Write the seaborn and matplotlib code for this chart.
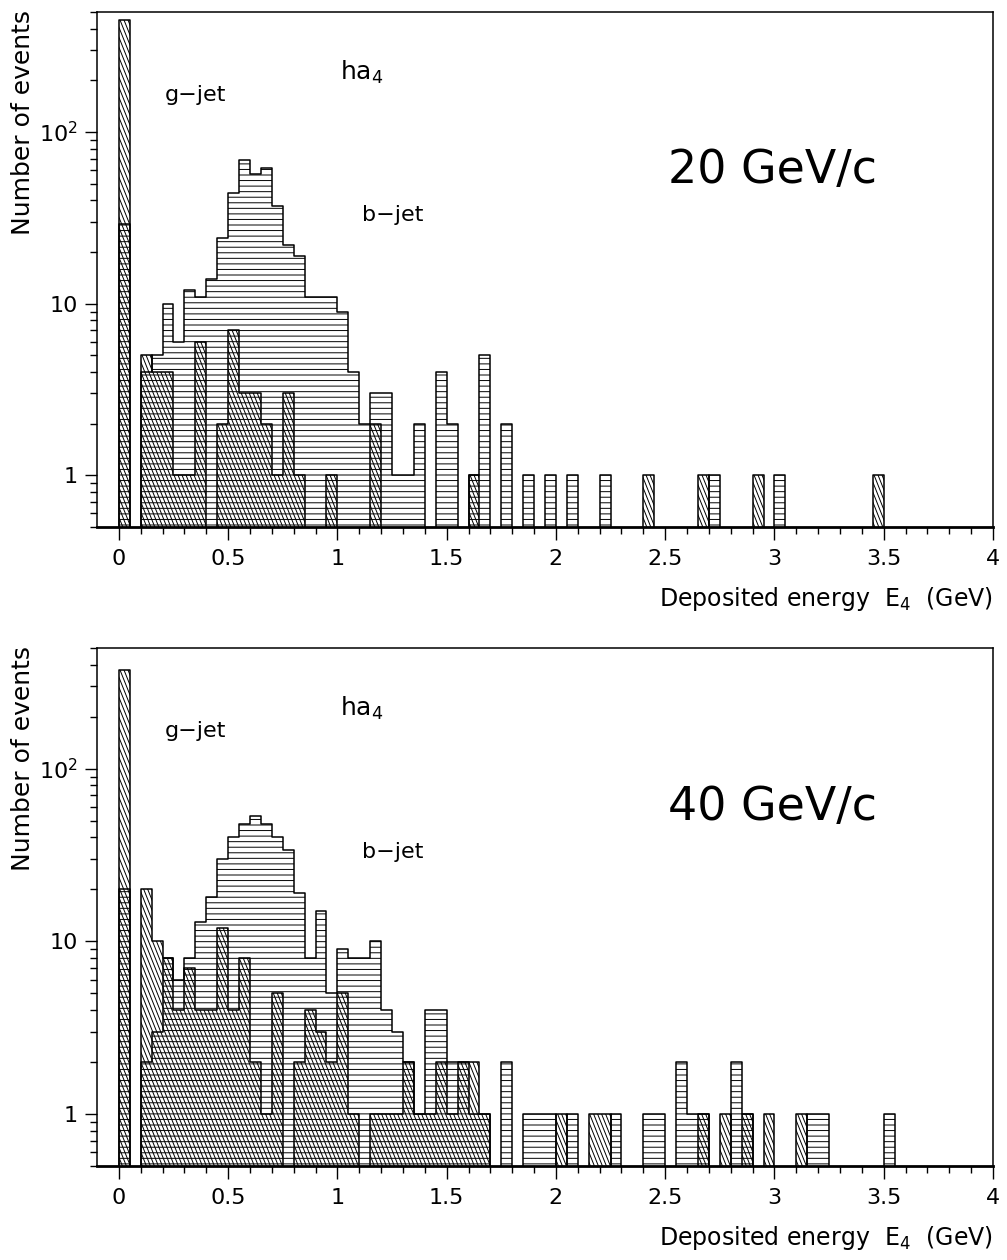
import numpy as np
import pandas as pd
import matplotlib
matplotlib.use("Agg")
import matplotlib.pyplot as plt
import matplotlib.hatch as mhatch
from matplotlib.path import Path
from matplotlib.ticker import FixedLocator, FixedFormatter, LogLocator, NullFormatter
import seaborn as sns

# ---------------------------------------------------------------------------
# Deposited energy E4 in calorimeter layer ha4, bins of 0.05 GeV from -0.1 to 4.0
# (lower bin edge in GeV, number of events; empty bins are left out)
# ---------------------------------------------------------------------------
bjet20_lo = [0.00, 0.10, 0.15, 0.20, 0.25, 0.30, 0.35, 0.40, 0.45, 0.50,
             0.55, 0.60, 0.65, 0.70, 0.75, 0.80, 0.85, 0.90, 0.95, 1.00,
             1.05, 1.10, 1.15, 1.20, 1.25, 1.30, 1.35, 1.45, 1.50, 1.60,
             1.65, 1.75, 1.85, 1.95, 2.05, 2.20, 2.70, 3.00]
bjet20_n = [29, 4, 5, 10, 6, 12, 11, 14, 24, 44,
            69, 57, 62, 37, 22, 19, 11, 11, 11, 9,
            4, 2, 3, 3, 1, 1, 2, 4, 2, 1,
            5, 2, 1, 1, 1, 1, 1, 1]

gjet20_lo = [0.00, 0.10, 0.15, 0.20, 0.25, 0.30, 0.35, 0.45, 0.50, 0.55,
             0.60, 0.65, 0.70, 0.75, 0.80, 0.95, 1.15, 1.60, 2.40, 2.65,
             2.90, 3.45]
gjet20_n = [450, 5, 4, 4, 1, 1, 6, 2, 7, 3,
            3, 2, 1, 3, 1, 1, 2, 1, 1, 1,
            1, 1]

bjet40_lo = [0.00, 0.10, 0.15, 0.20, 0.25, 0.30, 0.35, 0.40, 0.45, 0.50,
             0.55, 0.60, 0.65, 0.70, 0.75, 0.80, 0.85, 0.90, 0.95, 1.00,
             1.05, 1.10, 1.15, 1.20, 1.25, 1.30, 1.35, 1.40, 1.45, 1.50,
             1.55, 1.60, 1.65, 1.75, 1.85, 1.90, 1.95, 2.05, 2.25, 2.40,
             2.45, 2.55, 2.60, 2.65, 2.80, 2.85, 3.15, 3.20, 3.50]
bjet40_n = [20, 2, 3, 8, 6, 8, 13, 18, 30, 40,
            48, 53, 48, 40, 34, 19, 8, 15, 5, 9,
            8, 8, 10, 4, 3, 2, 1, 4, 4, 2,
            2, 1, 1, 2, 1, 1, 1, 1, 1, 1,
            1, 2, 1, 1, 2, 1, 1, 1, 1]

gjet40_lo = [0.00, 0.10, 0.15, 0.20, 0.25, 0.30, 0.35, 0.40, 0.45, 0.50,
             0.55, 0.60, 0.65, 0.70, 0.80, 0.85, 0.90, 0.95, 1.00, 1.05,
             1.15, 1.20, 1.25, 1.30, 1.35, 1.40, 1.45, 1.50, 1.55, 1.60,
             1.65, 2.00, 2.15, 2.20, 2.65, 2.75, 2.85, 2.95, 3.10]
gjet40_n = [373, 20, 10, 8, 4, 7, 4, 4, 12, 4,
            8, 2, 1, 5, 2, 4, 3, 2, 5, 1,
            1, 1, 1, 2, 1, 1, 2, 1, 2, 2,
            1, 1, 1, 1, 1, 1, 1, 1, 1]

momenta = ["20 GeV/c", "40 GeV/c"]
xtick_values = [0, 0.5, 1, 1.5, 2, 2.5, 3, 3.5, 4]
xtick_labels = ["0", "0.5", "1", "1.5", "2", "2.5", "3", "3.5", "4"]
ytick_values = [1, 10, 100]
ytick_labels = ["1", "10", "10$^2$"]

BIN_W = 0.05
edges = [round(e, 3) for e in np.arange(-0.1, 4.0 + BIN_W / 2, BIN_W)]


# Steep single-direction hatch ("\" lines, about 68 deg) for the g-jet histograms
class SteepBackslashHatch(mhatch.HatchPatternBase):
    LINES = 25      # lines per hatch cell along x
    SLOPE = 2.5     # rise per unit run (LINES / SLOPE must be an integer)

    def __init__(self, hatch, density):
        self.active = hatch.count("\\") > 0
        n = self.LINES + int(self.LINES / self.SLOPE) + 1
        self.num_vertices = 2 * n if self.active else 0

    def set_vertices_and_codes(self, vertices, codes):
        n = self.num_vertices // 2
        c = np.arange(n) / self.LINES
        vertices[0::2, 0] = c
        vertices[0::2, 1] = 0.0
        vertices[1::2, 0] = c - 1.0 / self.SLOPE
        vertices[1::2, 1] = 1.0
        codes[0::2] = Path.MOVETO
        codes[1::2] = Path.LINETO


mhatch._hatch_types = [SteepBackslashHatch if t is mhatch.SouthEastHatch else t
                       for t in mhatch._hatch_types]

sns.set_style("ticks")
plt.rcParams["font.family"] = ["DejaVu Sans"]
plt.rcParams["mathtext.fontset"] = "dejavusans"
plt.rcParams["hatch.linewidth"] = 0.7
plt.rcParams["hatch.color"] = "black"
plt.rcParams["axes.linewidth"] = 1.1
for key in ("text.color", "axes.labelcolor", "xtick.color", "ytick.color",
            "xtick.labelcolor", "ytick.labelcolor", "axes.edgecolor"):
    plt.rcParams[key] = "black"

W, H = 1007, 1260
fig = plt.figure(figsize=(W / 100, H / 100), dpi=100)
ax_top = fig.add_axes([97 / W, 1 - 527 / H, 896 / W, 515 / H])
ax_bot = fig.add_axes([97 / W, 1 - 1166 / H, 896 / W, 518 / H])


def hist_frame(lo, n):
    return pd.DataFrame({"E": np.asarray(lo) + BIN_W / 2, "n": np.asarray(n, float)})


def draw_panel(ax, b_lo, b_n, g_lo, g_n, label, axis_bottom_px, axis_top_px):
    ax.set_yscale("log")
    sns.histplot(data=hist_frame(b_lo, b_n), x="E", weights="n", bins=edges,
                 element="step", fill=True, color="black", facecolor="none",
                 edgecolor="black", hatch="---", linewidth=1.1, ax=ax)
    sns.histplot(data=hist_frame(g_lo, g_n), x="E", weights="n", bins=edges,
                 element="step", fill=True, color="black", facecolor="none",
                 edgecolor="black", hatch="\\", linewidth=1.1, ax=ax)

    ax.set_xlim(-0.1, 4.0)
    ax.set_ylim(0.5, 500)
    ax.set_xlabel("")
    ax.set_ylabel("")

    ax.xaxis.set_major_locator(FixedLocator(xtick_values))
    ax.xaxis.set_major_formatter(FixedFormatter(xtick_labels))
    ax.xaxis.set_minor_locator(FixedLocator(np.round(np.arange(0.0, 4.01, 0.1), 2)))
    ax.yaxis.set_major_locator(FixedLocator(ytick_values))
    ax.yaxis.set_major_formatter(FixedFormatter(ytick_labels))
    ax.yaxis.set_minor_locator(LogLocator(base=10, subs=np.arange(2, 10), numticks=20))
    ax.yaxis.set_minor_formatter(NullFormatter())

    ax.tick_params(which="both", direction="out", width=1.0, colors="black",
                   top=False, right=False)
    ax.tick_params(which="major", length=9, labelsize=16)
    ax.tick_params(axis="x", which="major", pad=7)
    ax.tick_params(axis="y", which="major", pad=5)
    ax.tick_params(which="minor", length=5)
    for side, sp in ax.spines.items():
        sp.set_visible(True)
        sp.set_linewidth(1.1)
        sp.set_color("black")
    ax.spines["bottom"].set_linewidth(2.0)

    ax.text(0.271, 0.883, "ha$_4$", transform=ax.transAxes, fontsize=18, va="center")
    ax.text(0.076, 0.839, "g\u2212jet", transform=ax.transAxes, fontsize=16, va="center")
    ax.text(0.637, 0.693, label, transform=ax.transAxes, fontsize=33, va="center")
    ax.text(0.296, 0.606, "b\u2212jet", transform=ax.transAxes, fontsize=16, va="center")

    fig.text(993 / W, 1 - (axis_bottom_px + 72) / H,
             "Deposited energy  E$_4$  (GeV)", fontsize=17, ha="right", va="center")
    fig.text(23 / W, 1 - (axis_top_px - 2) / H, "Number of events",
             fontsize=18, rotation=90, ha="center", va="top")


draw_panel(ax_top, bjet20_lo, bjet20_n, gjet20_lo, gjet20_n, momenta[0], 527, 12)
draw_panel(ax_bot, bjet40_lo, bjet40_n, gjet40_lo, gjet40_n, momenta[1], 1166, 648)

fig.savefig("out.png", dpi=100, facecolor="white")
